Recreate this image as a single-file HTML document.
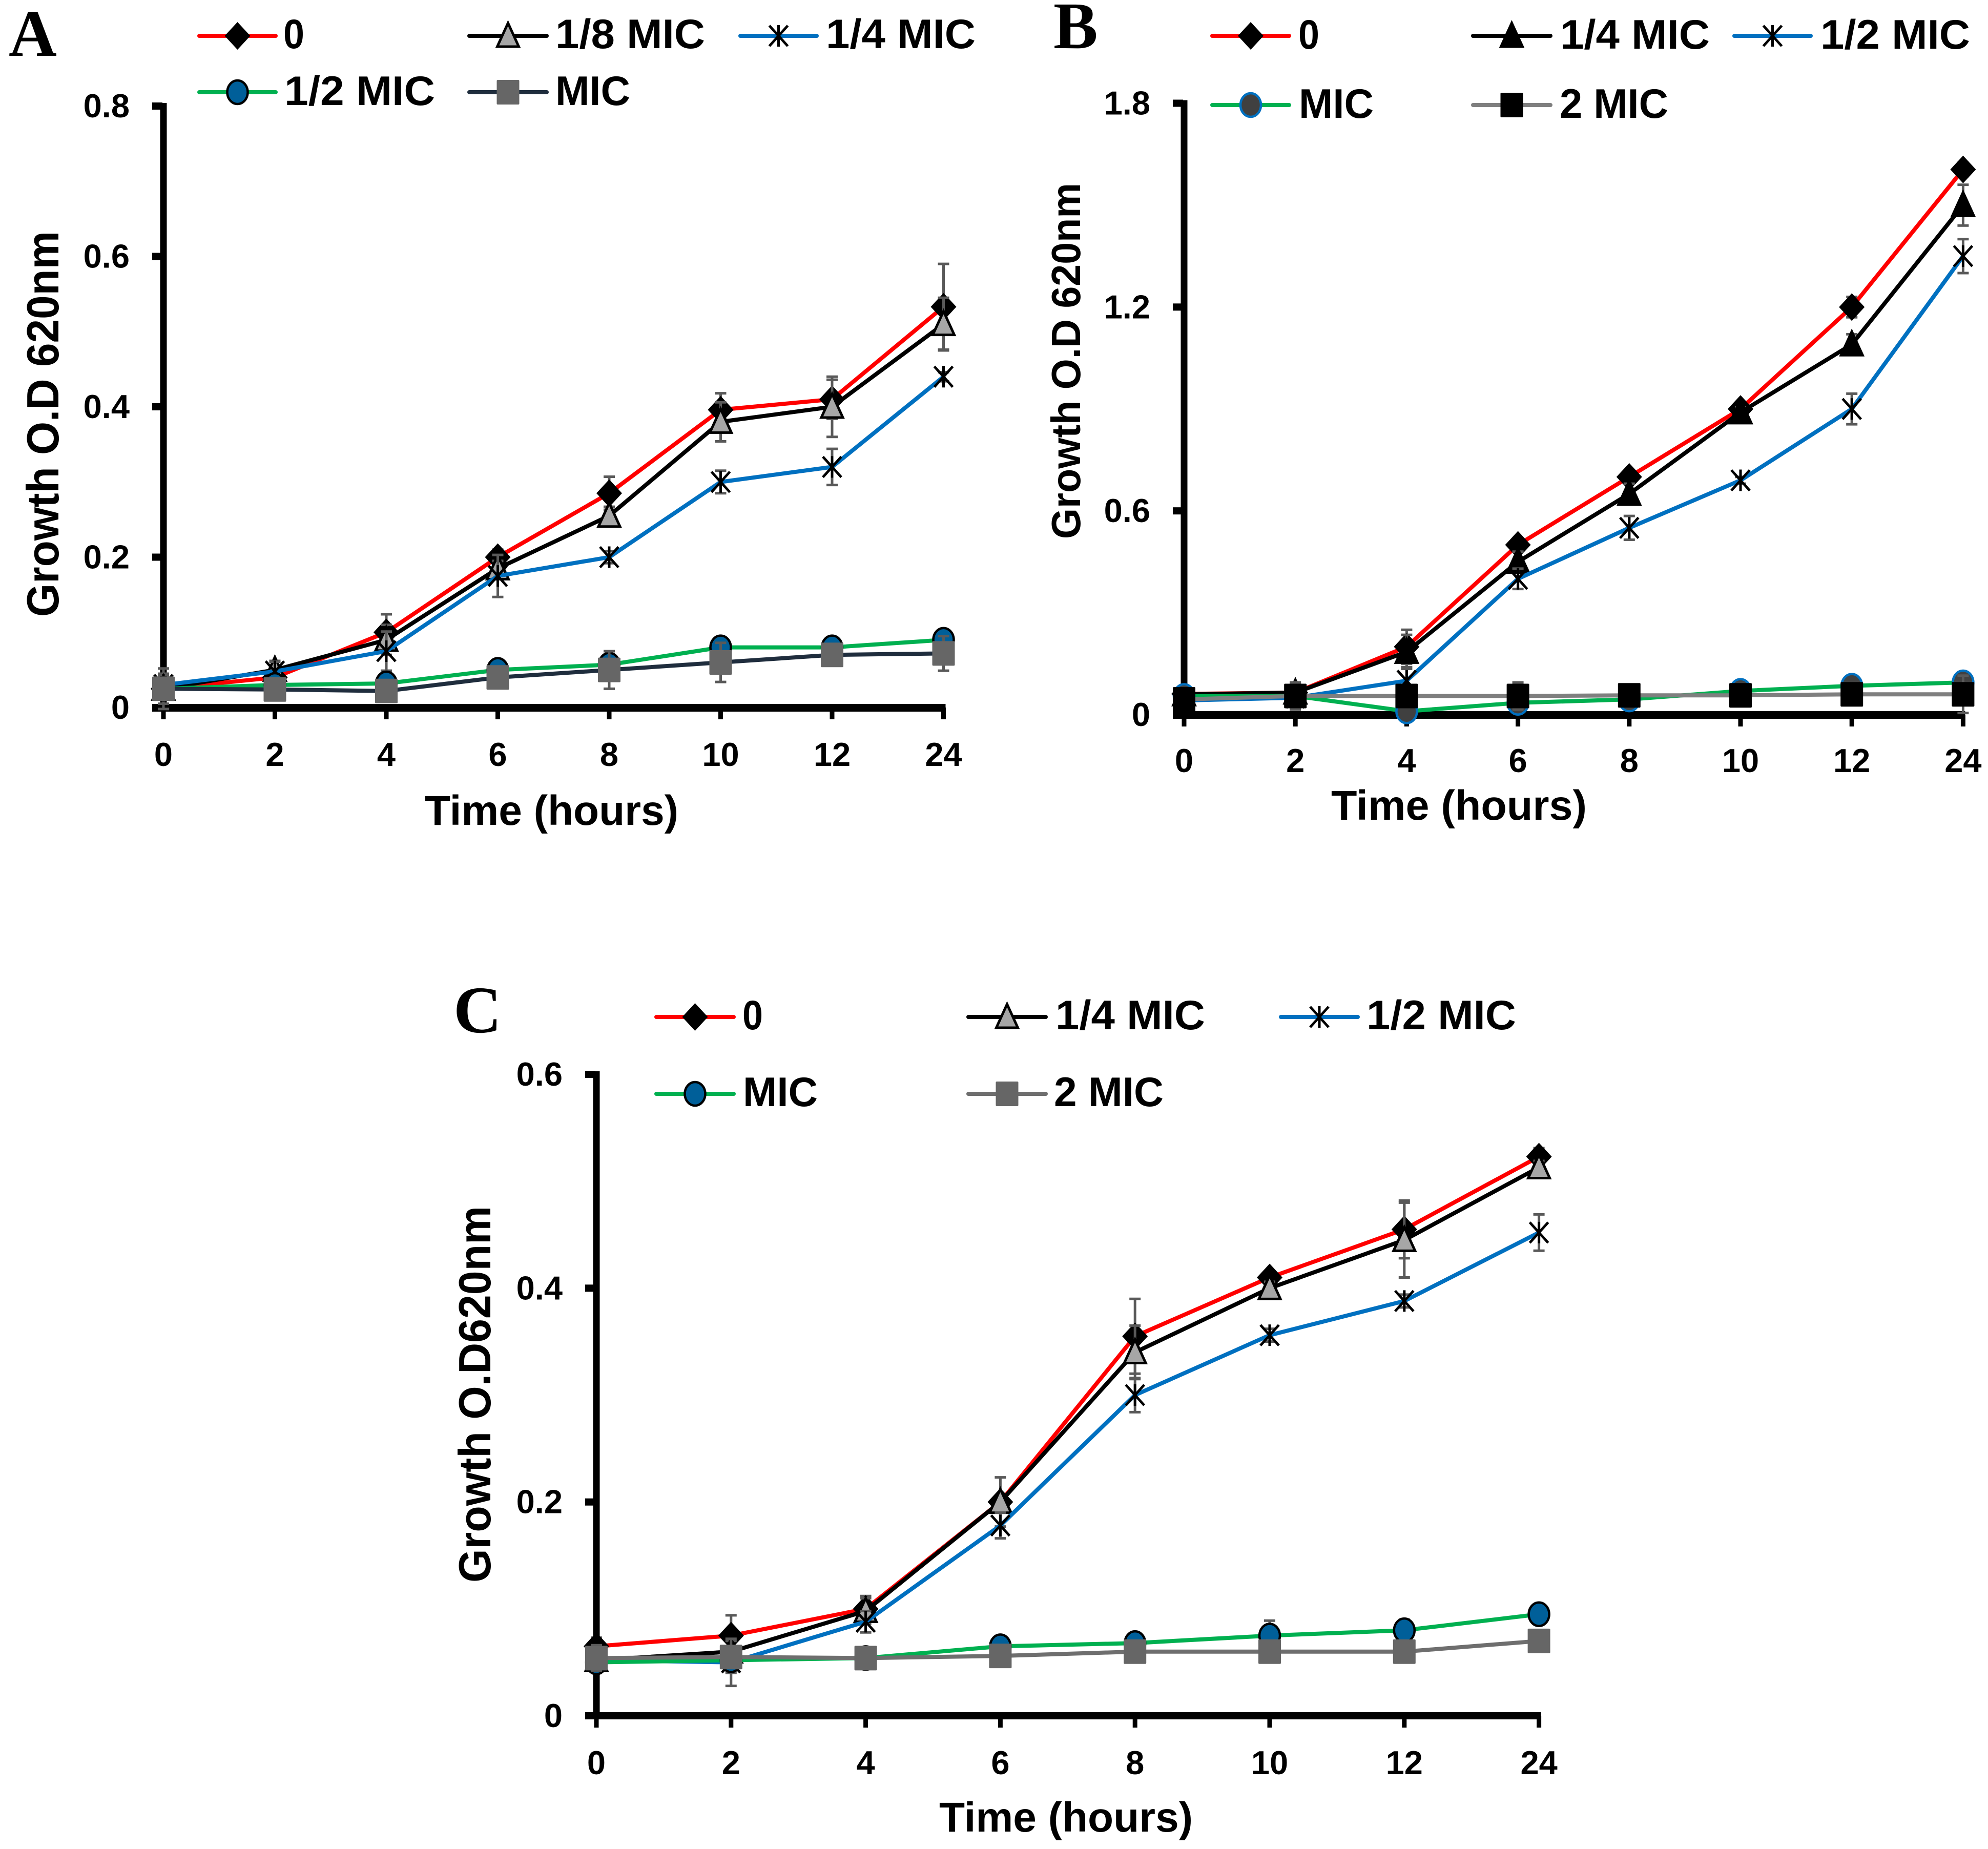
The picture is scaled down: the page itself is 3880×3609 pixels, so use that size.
<!DOCTYPE html>
<html lang="en">
<head>
<meta charset="utf-8">
<title>Bacterial growth curves at sub-inhibitory concentrations</title>
<style>
html,body{margin:0;padding:0;background:#fff;}
#figure{display:block;width:3880px;height:3609px;}
text{font-family:"Liberation Sans",sans-serif;font-weight:700;fill:#000;}
.panel-letter{font-family:"Liberation Serif",serif;font-weight:700;font-size:130px;}
</style>
</head>
<body>
<svg id="figure" xmlns="http://www.w3.org/2000/svg" width="3880" height="3609" viewBox="0 0 3880 3609">
  <rect x="0" y="0" width="3880" height="3609" fill="#fff"/>
  <text class="panel-letter" x="17" y="109">A</text>
  <text class="panel-letter" x="2056" y="94">B</text>
  <text class="panel-letter" x="885" y="2015">C</text>
  <text x="829" y="1610" font-size="82" textLength="495" lengthAdjust="spacingAndGlyphs">Time (hours)</text>
  <text x="2598" y="1600" font-size="82" textLength="499" lengthAdjust="spacingAndGlyphs">Time (hours)</text>
  <text x="1833" y="3575" font-size="82" textLength="495" lengthAdjust="spacingAndGlyphs">Time (hours)</text>
  <text transform="translate(114,1204) rotate(-90)" font-size="88" textLength="753" lengthAdjust="spacingAndGlyphs">Growth O.D 620nm</text>
  <text transform="translate(2108,1052) rotate(-90)" font-size="80" textLength="695" lengthAdjust="spacingAndGlyphs">Growth O.D 620nm</text>
  <text transform="translate(957,3089) rotate(-90)" font-size="88" textLength="735" lengthAdjust="spacingAndGlyphs">Growth O.D620nm</text>
  <g id="plots"></g>
  <g id="legends"></g>
</svg>
<script>
// ---------- data ----------
const categories = ["0","2","4","6","8","10","12","24"];

const aTicks = [0,0.2,0.4,0.6,0.8];
const aControl = [0.025,0.040,0.100,0.200,0.285,0.396,0.410,0.533];
const aEighth  = [0.025,0.050,0.090,0.185,0.255,0.380,0.400,0.510];
const aQuarter = [0.030,0.048,0.075,0.175,0.200,0.300,0.320,0.440];
const aHalf    = [0.025,0.030,0.032,0.050,0.057,0.080,0.080,0.090];
const aMic     = [0.025,0.024,0.022,0.040,0.050,0.060,0.070,0.072];
const aControlErr = [0.027,0.012,0.024,0.010,0.022,0.022,0.026,0.057];
const aEighthErr  = [0.020,0.012,0.020,0.010,0.012,0.026,0.040,0.035];
const aQuarterErr = [0.012,0.013,0.026,0.028,0.008,0.015,0.024,0.006];
const aHalfErr    = [0.010,0.005,0.010,0.006,0.018,0.006,0.005,0.006];
const aMicErr     = [0.012,0.008,0.008,0.010,0.025,0.026,0.008,0.023];

const bTicks = [0,0.6,1.2,1.8];
const bControl = [0.061,0.065,0.200,0.500,0.700,0.900,1.200,1.605];
const bQuarter = [0.060,0.065,0.185,0.450,0.650,0.890,1.090,1.500];
const bHalf    = [0.042,0.050,0.100,0.400,0.550,0.690,0.900,1.350];
const bMic     = [0.055,0.055,0.010,0.035,0.045,0.070,0.085,0.095];
const bTwoMic  = [0.045,0.055,0.055,0.055,0.057,0.057,0.060,0.060];
const bControlErr = [0.010,0.025,0.050,0.015,0.012,0.012,0.030,0.020];
const bQuarterErr = [0.010,0.025,0.050,0.030,0.030,0.015,0.030,0.060];
const bHalfErr    = [0.010,0.020,0.040,0.030,0.035,0.010,0.045,0.050];
const bMicErr     = [0.010,0.030,0.010,0.010,0.010,0.010,0.010,0.030];
const bTwoMicErr  = [0.010,0.040,0.020,0.040,0.010,0.010,0.010,0.055];

const cTicks = [0,0.2,0.4,0.6];
const cControl = [0.065,0.075,0.100,0.200,0.355,0.410,0.455,0.523];
const cQuarter = [0.052,0.060,0.098,0.200,0.340,0.400,0.445,0.513];
const cHalf    = [0.052,0.050,0.088,0.178,0.300,0.356,0.388,0.452];
const cMic     = [0.050,0.052,0.054,0.065,0.068,0.075,0.080,0.095];
const cTwoMic  = [0.054,0.055,0.054,0.056,0.060,0.060,0.060,0.070];
const cControlErr = [0.008,0.019,0.012,0.006,0.035,0.006,0.027,0.008];
const cQuarterErr = [0.006,0.010,0.012,0.023,0.025,0.006,0.035,0.006];
const cHalfErr    = [0.006,0.022,0.010,0.012,0.016,0.006,0.006,0.017];
const cMicErr     = [0.010,0.012,0.004,0.004,0.006,0.014,0.010,0.004];
const cTwoMicErr  = [0.012,0.010,0.004,0.004,0.004,0.004,0.004,0.004];

// ---------- drawing helpers ----------
const NS = 'http://www.w3.org/2000/svg';
const plots = document.getElementById('plots');
const legends = document.getElementById('legends');

function make(parent, tag, attrs) {
  const el = document.createElementNS(NS, tag);
  for (const k in attrs) el.setAttribute(k, attrs[k]);
  parent.appendChild(el);
  return el;
}

function drawMarker(parent, kind, x, y, fill, edge) {
  const g = make(parent, 'g', {transform: 'translate(' + x + ',' + y + ')'});
  
  
  if (kind === 'diamond') {
    make(g, 'polygon', {points: '0,-27 25,0 0,27 -25,0', fill: fill});
  } else if (kind === 'triangle') {
    make(g, 'polygon', {points: '0,-25 21,21 -21,21', fill: fill, stroke: edge, 'stroke-width': 5, 'stroke-linejoin': 'miter'});
  } else if (kind === 'square') {
    make(g, 'rect', {x: -22, y: -24, width: 44, height: 48, rx: 2, fill: fill});
  } else if (kind === 'circle') {
    make(g, 'ellipse', {cx: 0, cy: 0, rx: 20, ry: 23, fill: fill, stroke: edge, 'stroke-width': 4.5});
  } else if (kind === 'star') {
    const s = {stroke: '#000', 'stroke-width': 5};
    make(g, 'line', Object.assign({x1: 0, y1: -21, x2: 0, y2: 21}, s));
    make(g, 'line', Object.assign({x1: -18, y1: -20, x2: 18, y2: 20}, s));
    make(g, 'line', Object.assign({x1: 18, y1: -20, x2: -18, y2: 20}, s));
  }
}

function drawPanel(p) {
  const xAt = i => p.x0 + i * p.xStep;
  const yAt = v => p.y0 - (v / p.yMax) * (p.y0 - p.yTop);
  const g = make(plots, 'g', {});
  
  

  // axes
  const yAxis = make(g, 'rect', {x: p.x0 - 6.5, y: yAt(p.yMax) - 6, width: 13, height: p.y0 - p.yTop + 12, fill: '#000'});
  
  
  const xAxis = make(g, 'rect', {x: p.x0 - 22, y: p.y0 - 7, width: xAt(categories.length - 1) - p.x0 + 26, height: p.xAxisThick, fill: '#000'});
  
  

  // y ticks and labels
  p.ticks.forEach(v => {
    const t = make(g, 'rect', {x: p.x0 - 22, y: yAt(v) - 7, width: 20, height: 14, fill: '#000'});
    
    
    const l = make(g, 'text', {x: p.x0 - 66, y: yAt(v) + 22, 'font-size': 65, 'text-anchor': 'end'});
    l.textContent = String(v);
    
    
  });

  // x ticks and labels
  categories.forEach((c, i) => {
    const t = make(g, 'rect', {x: xAt(i) - 4.5, y: p.y0, width: 9, height: 23, fill: '#000'});
    
    
    const l = make(g, 'text', {x: xAt(i), y: p.y0 + p.xLabelDrop, 'font-size': 65, 'text-anchor': 'middle'});
    l.textContent = c;
    
    
  });

  // series
  p.series.forEach(s => {
    const sg = make(g, 'g', {});
    
    
    s.values.forEach((v, i) => {
      const e = s.err[i];
      const eb = make(sg, 'path', {
        d: 'M' + xAt(i) + ' ' + yAt(v + e) + 'V' + yAt(v - e) +
           'M' + (xAt(i) - 11) + ' ' + yAt(v + e) + 'h22' +
           'M' + (xAt(i) - 11) + ' ' + yAt(v - e) + 'h22',
        fill: 'none', stroke: '#595959', 'stroke-width': 5
      });
      
      
    });
    const line = make(sg, 'polyline', {
      points: s.values.map((v, i) => xAt(i) + ',' + yAt(v)).join(' '),
      fill: 'none', stroke: s.color, 'stroke-width': 8, 'stroke-linejoin': 'round'
    });
    
    
    s.values.forEach((v, i) => drawMarker(sg, s.marker, xAt(i), yAt(v), s.fill, s.edge));
  });
}

function legendEntry(label, style, x1, x2, midY, textX, textW, baseline) {
  const g = make(legends, 'g', {});
  
  
  make(g, 'line', {x1: x1, y1: midY, x2: x2, y2: midY, stroke: style.color, 'stroke-width': 8, 'stroke-linecap': 'round'});
  drawMarker(g, style.marker, (x1 + x2) / 2, midY, style.fill, style.edge);
  const t = make(g, 'text', {x: textX, y: baseline, 'font-size': 81, textLength: textW, lengthAdjust: 'spacingAndGlyphs'});
  t.textContent = label;
}

// ---------- styles ----------
const sRed    = {color: '#FF0000', marker: 'diamond',  fill: '#000',    edge: '#000'};
const sGrayTri= {color: '#000',    marker: 'triangle', fill: '#A6A6A6', edge: '#000'};
const sBlkTri = {color: '#000',    marker: 'triangle', fill: '#000',    edge: '#000'};
const sStar   = {color: '#0070C0', marker: 'star',     fill: 'none',    edge: '#000'};
const sCircle = {color: '#00B050', marker: 'circle',   fill: '#005F99', edge: '#000'};
const sDarkCir= {color: '#00B050', marker: 'circle',   fill: '#404040', edge: '#0070C0'};
const sNavySq = {color: '#1F2D3D', marker: 'square',   fill: '#666666', edge: '#666666'};
const sBlackSq= {color: '#7F7F7F', marker: 'square',   fill: '#000',    edge: '#000'};
const sGraySq = {color: '#6E6E6E', marker: 'square',   fill: '#666666', edge: '#666666'};

function series(key, style, values, err) {
  return Object.assign({key: key, values: values, err: err}, style);
}

drawPanel({name: 'panel-a-chart', x0: 319, xStep: 217.5, y0: 1381, yTop: 207, yMax: 0.8, xLabelDrop: 114, xAxisThick: 15, ticks: aTicks,
  series: [
    series('0', sRed, aControl, aControlErr),
    series('1-8-mic', sGrayTri, aEighth, aEighthErr),
    series('1-4-mic', sStar, aQuarter, aQuarterErr),
    series('1-2-mic', sCircle, aHalf, aHalfErr),
    series('mic', sNavySq, aMic, aMicErr)
  ]});
drawPanel({name: 'panel-b-chart', x0: 2311, xStep: 217.2, y0: 1395, yTop: 201.5, yMax: 1.8, xLabelDrop: 112, xAxisThick: 15, ticks: bTicks,
  series: [
    series('0', sRed, bControl, bControlErr),
    series('1-4-mic', sBlkTri, bQuarter, bQuarterErr),
    series('1-2-mic', sStar, bHalf, bHalfErr),
    series('mic', sDarkCir, bMic, bMicErr),
    series('2-mic', sBlackSq, bTwoMic, bTwoMicErr)
  ]});
drawPanel({name: 'panel-c-chart', x0: 1164, xStep: 262.8, y0: 3349, yTop: 2097, yMax: 0.6, xLabelDrop: 114, xAxisThick: 14, ticks: cTicks,
  series: [
    series('0', sRed, cControl, cControlErr),
    series('1-4-mic', sGrayTri, cQuarter, cQuarterErr),
    series('1-2-mic', sStar, cHalf, cHalfErr),
    series('mic', sCircle, cMic, cMicErr),
    series('2-mic', sGraySq, cTwoMic, cTwoMicErr)
  ]});

// ---------- legends ----------
legendEntry('0', sRed, 389, 538, 70, 553, 41, 94);
legendEntry('1/8 MIC', sGrayTri, 916, 1067, 70, 1084, 292, 94);
legendEntry('1/4 MIC', sStar, 1445, 1594, 70, 1612, 292, 94);
legendEntry('1/2 MIC', sCircle, 389, 538, 180, 555, 294, 205);
legendEntry('MIC', sNavySq, 916, 1067, 180, 1084, 146, 205);

legendEntry('0', sRed, 2366, 2516, 70, 2534, 41, 95);
legendEntry('1/4 MIC', sBlkTri, 2875, 3026, 70, 3045, 292, 95);
legendEntry('1/2 MIC', sStar, 3385, 3534, 70, 3553, 292, 95);
legendEntry('MIC', sDarkCir, 2366, 2516, 205, 2535, 146, 230);
legendEntry('2 MIC', sBlackSq, 2875, 3026, 205, 3044, 212, 230);

legendEntry('0', sRed, 1281, 1432, 1985, 1449, 40, 2009);
legendEntry('1/4 MIC', sGrayTri, 1890, 2041, 1985, 2060, 292, 2009);
legendEntry('1/2 MIC', sStar, 2500, 2650, 1985, 2667, 292, 2009);
legendEntry('MIC', sCircle, 1281, 1432, 2135, 1450, 146, 2159);
legendEntry('2 MIC', sGraySq, 1890, 2041, 2135, 2057, 214, 2159);
</script>
</body>
</html>
